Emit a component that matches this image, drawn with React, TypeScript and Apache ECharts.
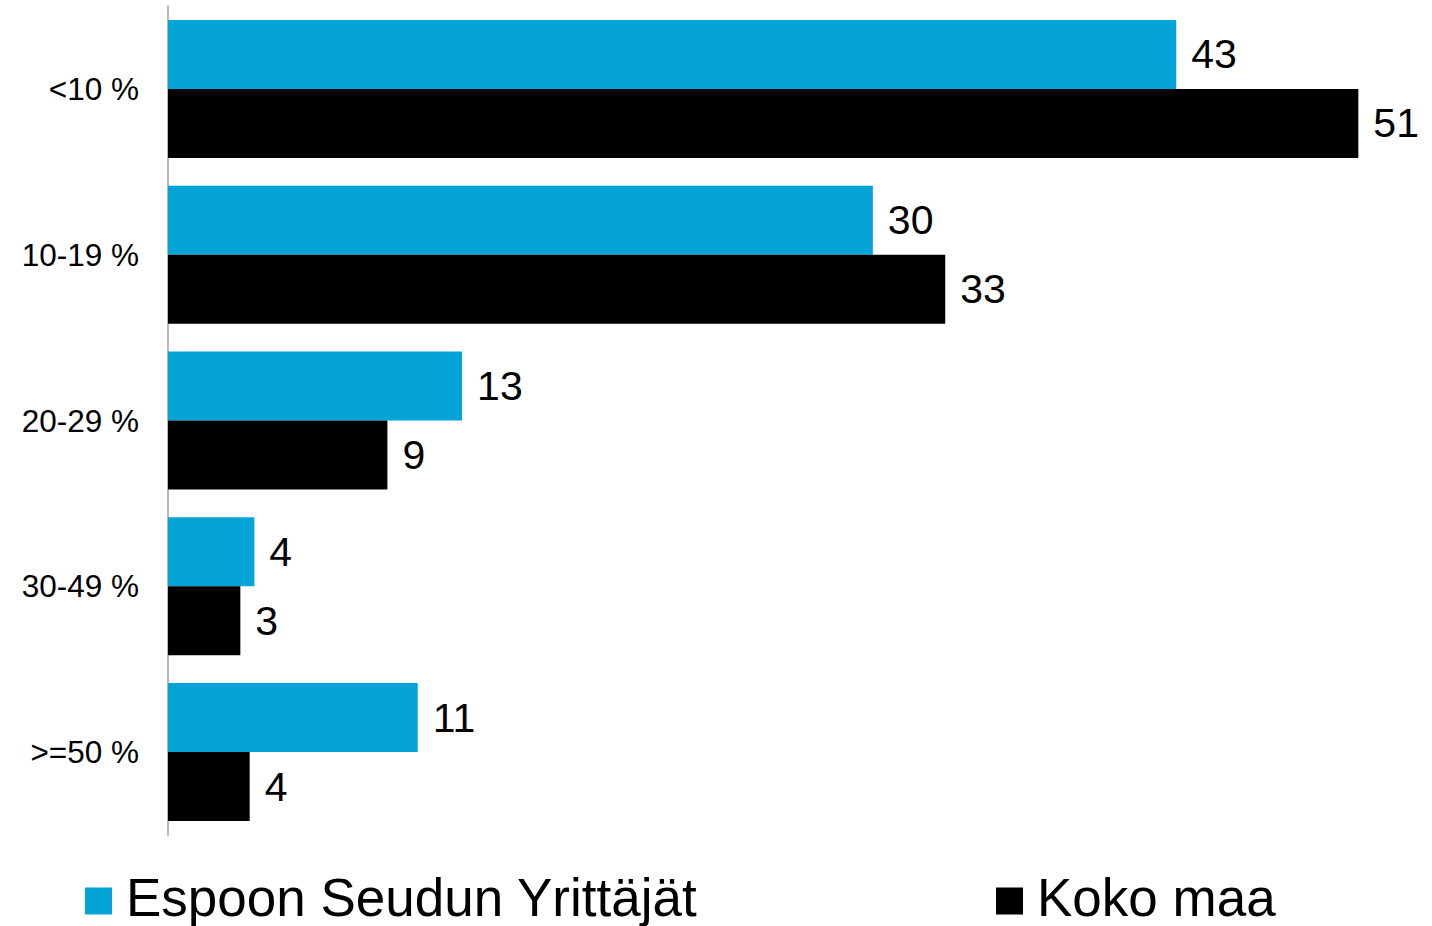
import React, { useEffect, useRef } from "react";
import * as echarts from "echarts";

const categories = ["<10 %", "10-19 %", "20-29 %", "30-49 %", ">=50 %"];
const seriesNames = ["Espoon Seudun Yrittäjät", "Koko maa"];
const espooValues = [43.2, 30.2, 12.6, 3.7, 10.7];
const kokoMaaValues = [51.0, 33.3, 9.4, 3.1, 3.5];
const colors = ["#04A4D8", "#000000"];

const FONT = "'Liberation Sans', Arial, Helvetica, sans-serif";
// square icon sitting slightly below the text's centre line
const LEGEND_ICON = "path://M0,0h27v0.01H0Z M0,8h27v27H0Z";

export default function App() {
  const ref = useRef<HTMLDivElement>(null);

  useEffect(() => {
    if (!ref.current) return;
    const chart = echarts.init(ref.current, undefined, { renderer: "svg" });
    const labelCfg = {
      show: true,
      position: "right" as const,
      distance: 15,
      color: "#000",
      fontSize: 41,
      fontFamily: FONT,
      formatter: (p: any) => String(Math.round(p.value)),
    };
    const legendText = {
      fontSize: 53,
      fontFamily: FONT,
      color: "#000",
      lineHeight: 54,
      padding: [0, 0, 0, 9],
    };
    const legendBase = {
      top: 870,
      padding: 0,
      icon: LEGEND_ICON,
      itemWidth: 27,
      itemHeight: 35,
      textStyle: legendText,
    };
    chart.setOption({
      animation: false,
      backgroundColor: "#ffffff",
      textStyle: { fontFamily: FONT },
      grid: { left: 168, top: 6, height: 829, width: 53 * 23.34, containLabel: false },
      xAxis: {
        type: "value",
        min: 0,
        max: 53,
        show: false,
        splitLine: { show: false },
      },
      yAxis: {
        type: "category",
        inverse: true,
        data: categories,
        axisTick: { show: false },
        axisLine: { show: true, lineStyle: { color: "#a0a0a0", width: 1.5 } },
        axisLabel: { color: "#000", fontSize: 31.5, fontFamily: FONT, margin: 29 },
      },
      legend: [
        { ...legendBase, data: [seriesNames[0]], left: 85 },
        { ...legendBase, data: [seriesNames[1]], left: 996 },
      ],
      series: [
        {
          name: seriesNames[0],
          type: "bar",
          data: espooValues,
          barWidth: 69,
          barGap: "0%",
          itemStyle: { color: colors[0] },
          label: labelCfg,
        },
        {
          name: seriesNames[1],
          type: "bar",
          data: kokoMaaValues,
          barWidth: 69,
          barGap: "0%",
          itemStyle: { color: colors[1] },
          label: labelCfg,
        },
      ],
    });
    return () => chart.dispose();
  }, []);

  return (
    <div
      ref={ref}
      style={{ position: "fixed", left: 0, top: 0, width: 1432, height: 926, background: "#fff" }}
    />
  );
}
